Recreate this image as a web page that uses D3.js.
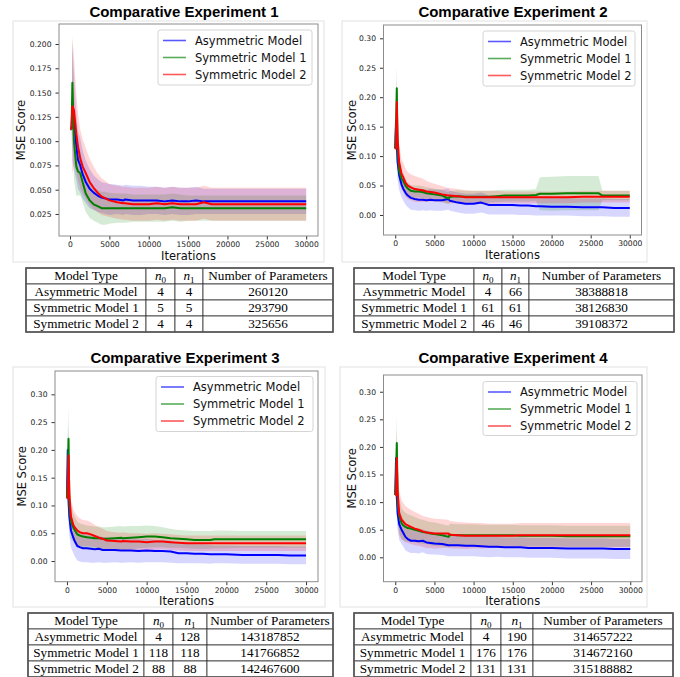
<!DOCTYPE html>
<html>
<head>
<meta charset="utf-8">
<style>
  body { margin: 0; background: #fff; }
  svg text { font-family: "DejaVu Sans", sans-serif; }
  svg text.title { font-family: "Liberation Sans", Arial, sans-serif; font-weight: bold; font-size: 15px; }
  svg text.cell { font-family: "Liberation Serif", "Times New Roman", serif; font-size: 13.2px; }
</style>
<script src="https://cdn.jsdelivr.net/npm/d3@7"></script>
</head>
<body>
<svg width="680" height="677"></svg>
<script>
// ---- data ----
var iters = [0,100,200,300,500,800,1000,1300,1600,2000,2500,3000,3500,4000,4500,5000,6000,6800,7000,8000,9000,10000,11000,12000,13000,14000,15000,16000,17000,18000,18500,20000,22000,24000,26000,26500,28000,30000];

var modelNames = ["Asymmetric Model", "Symmetric Model 1", "Symmetric Model 2"];
var xTicks = [0, 5000, 10000, 15000, 20000, 25000, 30000];
var yTicksExp1 = [0.025, 0.050, 0.075, 0.100, 0.125, 0.150, 0.175, 0.200];
var yTicksOther = [0.00, 0.05, 0.10, 0.15, 0.20, 0.25, 0.30];

// experiment 1
var exp1AsymMean = [0.113,0.113,0.113,0.140,0.120,0.095,0.081,0.075,0.066,0.058,0.051,0.047,0.044,0.042,0.041,0.040,0.040,0.039,0.040,0.039,0.039,0.039,0.039,0.038,0.039,0.038,0.038,0.039,0.038,0.038,0.038,0.038,0.038,0.038,0.038,0.038,0.038,0.038];
var exp1Sym1Mean = [0.113,0.113,0.113,0.160,0.100,0.074,0.069,0.067,0.058,0.046,0.039,0.035,0.033,0.031,0.031,0.031,0.031,0.031,0.031,0.031,0.031,0.031,0.031,0.031,0.032,0.031,0.031,0.031,0.031,0.031,0.031,0.031,0.031,0.031,0.031,0.031,0.031,0.031];
var exp1Sym2Mean = [0.113,0.113,0.113,0.136,0.132,0.108,0.095,0.082,0.074,0.067,0.058,0.052,0.047,0.043,0.041,0.039,0.037,0.036,0.036,0.035,0.035,0.035,0.036,0.035,0.036,0.035,0.035,0.035,0.037,0.035,0.035,0.035,0.035,0.035,0.035,0.035,0.035,0.035];
var exp1AsymStd = [0.002,0.002,0.002,0.060,0.050,0.035,0.030,0.028,0.025,0.022,0.020,0.018,0.017,0.016,0.016,0.016,0.015,0.015,0.015,0.015,0.015,0.014,0.014,0.014,0.014,0.014,0.014,0.014,0.013,0.013,0.013,0.013,0.013,0.013,0.013,0.013,0.013,0.013];
var exp1Sym1Std = [0.002,0.002,0.002,0.050,0.040,0.030,0.025,0.023,0.021,0.019,0.018,0.017,0.017,0.017,0.017,0.016,0.015,0.015,0.015,0.014,0.014,0.014,0.014,0.014,0.014,0.014,0.013,0.013,0.013,0.013,0.013,0.013,0.013,0.013,0.013,0.013,0.013,0.013];
var exp1Sym2Std = [0.002,0.002,0.002,0.070,0.055,0.040,0.035,0.030,0.028,0.026,0.024,0.022,0.020,0.019,0.018,0.017,0.017,0.017,0.017,0.017,0.017,0.017,0.017,0.017,0.017,0.017,0.017,0.017,0.017,0.017,0.017,0.017,0.017,0.017,0.017,0.017,0.017,0.017];

// experiment 2
var exp2AsymMean = [0.113,0.160,0.120,0.090,0.068,0.052,0.045,0.038,0.033,0.029,0.027,0.026,0.026,0.025,0.026,0.025,0.025,0.027,0.024,0.021,0.019,0.019,0.021,0.017,0.017,0.017,0.017,0.016,0.016,0.015,0.015,0.014,0.014,0.013,0.013,0.013,0.012,0.012];
var exp2Sym1Mean = [0.113,0.150,0.215,0.110,0.075,0.062,0.058,0.050,0.045,0.041,0.040,0.040,0.039,0.037,0.036,0.035,0.033,0.028,0.031,0.032,0.031,0.031,0.031,0.031,0.032,0.033,0.033,0.033,0.033,0.034,0.036,0.036,0.037,0.037,0.037,0.033,0.033,0.033];
var exp2Sym2Mean = [0.113,0.113,0.192,0.130,0.090,0.070,0.065,0.055,0.050,0.047,0.044,0.043,0.042,0.040,0.039,0.038,0.035,0.033,0.033,0.032,0.030,0.030,0.030,0.030,0.030,0.030,0.030,0.030,0.030,0.030,0.030,0.030,0.030,0.031,0.031,0.031,0.031,0.031];
var exp2AsymStd = [0.002,0.030,0.030,0.030,0.025,0.022,0.020,0.020,0.020,0.020,0.019,0.019,0.018,0.018,0.018,0.018,0.018,0.018,0.017,0.017,0.017,0.017,0.017,0.016,0.016,0.016,0.016,0.016,0.016,0.016,0.016,0.015,0.015,0.015,0.015,0.015,0.015,0.015];
var exp2Sym1Std = [0.002,0.040,0.040,0.030,0.020,0.015,0.012,0.011,0.010,0.010,0.010,0.010,0.010,0.010,0.010,0.010,0.010,0.010,0.010,0.010,0.010,0.010,0.010,0.010,0.010,0.010,0.010,0.010,0.010,0.010,0.028,0.029,0.029,0.029,0.029,0.008,0.008,0.008];
var exp2Sym2Std = [0.002,0.002,0.040,0.040,0.030,0.025,0.025,0.024,0.023,0.022,0.022,0.021,0.020,0.018,0.016,0.015,0.014,0.013,0.013,0.012,0.012,0.011,0.011,0.011,0.011,0.010,0.010,0.010,0.010,0.010,0.010,0.010,0.010,0.010,0.010,0.010,0.010,0.010];

// experiment 3
var exp3AsymMean = [0.113,0.200,0.110,0.080,0.055,0.042,0.035,0.027,0.025,0.023,0.023,0.022,0.021,0.022,0.020,0.020,0.020,0.019,0.019,0.019,0.018,0.019,0.018,0.018,0.017,0.014,0.014,0.013,0.013,0.012,0.012,0.012,0.011,0.011,0.011,0.011,0.010,0.010];
var exp3Sym1Mean = [0.113,0.150,0.220,0.100,0.070,0.060,0.055,0.048,0.046,0.044,0.043,0.042,0.041,0.041,0.040,0.040,0.041,0.042,0.041,0.042,0.043,0.044,0.044,0.043,0.041,0.040,0.039,0.038,0.038,0.038,0.039,0.039,0.039,0.039,0.039,0.039,0.039,0.039];
var exp3Sym2Mean = [0.113,0.113,0.190,0.120,0.080,0.065,0.060,0.055,0.052,0.050,0.050,0.048,0.045,0.042,0.040,0.037,0.036,0.035,0.036,0.035,0.035,0.034,0.035,0.035,0.034,0.033,0.032,0.032,0.032,0.032,0.032,0.032,0.032,0.032,0.032,0.032,0.032,0.032];
var exp3AsymStd = [0.002,0.050,0.040,0.035,0.030,0.028,0.027,0.026,0.026,0.025,0.025,0.025,0.024,0.024,0.023,0.023,0.022,0.022,0.022,0.021,0.021,0.021,0.020,0.020,0.020,0.018,0.018,0.017,0.017,0.017,0.016,0.016,0.016,0.016,0.016,0.016,0.016,0.016];
var exp3Sym1Std = [0.002,0.060,0.060,0.040,0.030,0.025,0.024,0.023,0.022,0.022,0.021,0.021,0.021,0.021,0.021,0.021,0.021,0.021,0.021,0.021,0.020,0.020,0.019,0.018,0.017,0.016,0.016,0.016,0.016,0.016,0.016,0.016,0.015,0.015,0.015,0.015,0.015,0.015];
var exp3Sym2Std = [0.002,0.002,0.050,0.040,0.030,0.028,0.027,0.026,0.025,0.024,0.023,0.022,0.020,0.019,0.018,0.017,0.016,0.016,0.016,0.015,0.015,0.015,0.015,0.014,0.014,0.014,0.014,0.014,0.014,0.014,0.014,0.014,0.014,0.014,0.014,0.014,0.014,0.014];

// experiment 4
var exp4AsymMean = [0.113,0.180,0.110,0.080,0.060,0.050,0.045,0.037,0.033,0.030,0.030,0.029,0.030,0.027,0.026,0.025,0.024,0.022,0.022,0.022,0.021,0.021,0.020,0.019,0.019,0.018,0.018,0.018,0.017,0.017,0.017,0.017,0.016,0.016,0.016,0.016,0.015,0.015];
var exp4Sym1Mean = [0.113,0.150,0.207,0.100,0.075,0.062,0.058,0.055,0.053,0.052,0.050,0.048,0.046,0.045,0.043,0.042,0.040,0.037,0.041,0.040,0.040,0.040,0.040,0.040,0.040,0.040,0.040,0.039,0.039,0.039,0.039,0.039,0.038,0.038,0.038,0.038,0.038,0.038];
var exp4Sym2Mean = [0.113,0.113,0.180,0.120,0.080,0.068,0.065,0.060,0.058,0.055,0.052,0.050,0.047,0.045,0.044,0.043,0.043,0.043,0.041,0.040,0.039,0.039,0.039,0.039,0.039,0.039,0.039,0.040,0.040,0.040,0.040,0.040,0.040,0.040,0.040,0.040,0.040,0.040];
var exp4AsymStd = [0.002,0.040,0.035,0.030,0.028,0.026,0.025,0.024,0.023,0.022,0.022,0.022,0.021,0.021,0.021,0.020,0.020,0.020,0.020,0.020,0.019,0.019,0.019,0.019,0.018,0.018,0.018,0.018,0.018,0.018,0.018,0.018,0.018,0.018,0.018,0.018,0.018,0.018];
var exp4Sym1Std = [0.002,0.050,0.050,0.040,0.030,0.028,0.027,0.026,0.025,0.024,0.023,0.022,0.022,0.021,0.021,0.021,0.020,0.020,0.020,0.020,0.020,0.020,0.019,0.019,0.019,0.019,0.019,0.019,0.019,0.019,0.019,0.019,0.019,0.019,0.019,0.019,0.019,0.019];
var exp4Sym2Std = [0.002,0.002,0.050,0.045,0.040,0.036,0.034,0.033,0.032,0.031,0.030,0.029,0.028,0.028,0.027,0.027,0.026,0.025,0.025,0.024,0.024,0.023,0.023,0.022,0.022,0.022,0.022,0.022,0.022,0.022,0.022,0.022,0.022,0.022,0.022,0.022,0.022,0.022];

// tables
var tableHeader = ["Model Type", "n0", "n1", "Number of Parameters"];
var table1Rows = [["Asymmetric Model","4","4","260120"],["Symmetric Model 1","5","5","293790"],["Symmetric Model 2","4","4","325656"]];
var table2Rows = [["Asymmetric Model","4","66","38388818"],["Symmetric Model 1","61","61","38126830"],["Symmetric Model 2","46","46","39108372"]];
var table3Rows = [["Asymmetric Model","4","128","143187852"],["Symmetric Model 1","118","118","141766852"],["Symmetric Model 2","88","88","142467600"]];
var table4Rows = [["Asymmetric Model","4","190","314657222"],["Symmetric Model 1","176","176","314672160"],["Symmetric Model 2","131","131","315188882"]];

var colors = ["#0000ff", "#008000", "#ff0000"];

// ---- layout of the four panels ----
var panels = [
    {title: "Comparative Experiment 1", titleX: 184, titleY: 17, outer: [13, 21, 324, 262],
     frame: [59, 24, 318, 236], xDomain: [-1400, 31500], yDomain: [0.00235, 0.2206],
     yTicks: yTicksExp1, yFmt: ".3f", yLabelX: 21, legend: [158, 30, 312, 85],
     means: [exp1AsymMean, exp1Sym1Mean, exp1Sym2Mean], stds: [exp1AsymStd, exp1Sym1Std, exp1Sym2Std],
     cols: [26, 146, 175, 203, 333], tableY: 268, rows: table1Rows},
    {title: "Comparative Experiment 2", titleX: 513, titleY: 17, outer: [342, 21, 647, 262],
     frame: [383.5, 25, 641.5, 235], xDomain: [-1500, 31500], yDomain: [-0.034, 0.3226],
     yTicks: yTicksOther, yFmt: ".2f", yLabelX: 352, legend: [483, 31, 635, 86],
     means: [exp2AsymMean, exp2Sym1Mean, exp2Sym2Mean], stds: [exp2AsymStd, exp2Sym1Std, exp2Sym2Std],
     cols: [354, 474, 502, 529, 674], tableY: 268, rows: table2Rows},
    {title: "Comparative Experiment 3", titleX: 185, titleY: 363, outer: [13, 367, 325, 607],
     frame: [55, 371, 318, 581.7], xDomain: [-1500, 31500], yDomain: [-0.0372, 0.342],
     yTicks: yTicksOther, yFmt: ".2f", yLabelX: 22, legend: [156, 376.5, 313, 431.5],
     means: [exp3AsymMean, exp3Sym1Mean, exp3Sym2Mean], stds: [exp3AsymStd, exp3Sym1Std, exp3Sym2Std],
     cols: [28, 144, 173, 207, 333], tableY: 613, rows: table3Rows},
    {title: "Comparative Experiment 4", titleX: 513, titleY: 363, outer: [340, 367, 647, 607],
     frame: [383.5, 375, 642, 581.7], xDomain: [-1500, 31500], yDomain: [-0.0442, 0.3303],
     yTicks: yTicksOther, yFmt: ".2f", yLabelX: 352, legend: [483, 381.5, 637, 435.5],
     means: [exp4AsymMean, exp4Sym1Mean, exp4Sym2Mean], stds: [exp4AsymStd, exp4Sym1Std, exp4Sym2Std],
     cols: [354, 471, 501, 533, 673], tableY: 613, rows: table4Rows}
];

var svg = d3.select("svg");

panels.forEach(function(p, pi) {
    var fx0 = p.frame[0], fy0 = p.frame[1], fx1 = p.frame[2], fy1 = p.frame[3];

    // light outline around each figure
    svg.append("rect")
        .attr("x", p.outer[0]).attr("y", p.outer[1])
        .attr("width", p.outer[2] - p.outer[0]).attr("height", p.outer[3] - p.outer[1])
        .attr("fill", "none").attr("stroke", "#e2e2e2").attr("stroke-width", 1);

    var x = d3.scaleLinear().domain(p.xDomain).range([fx0, fx1]);
    var y = d3.scaleLinear().domain(p.yDomain).range([fy1, fy0]);

    svg.append("clipPath").attr("id", "clip" + pi)
        .append("rect").attr("x", fx0).attr("y", fy0)
        .attr("width", fx1 - fx0).attr("height", fy1 - fy0);

    var plot = svg.append("g").attr("clip-path", "url(#clip" + pi + ")");

    // std bands, then mean lines
    p.means.forEach(function(mean, si) {
        var std = p.stds[si];
        var pts = iters.map(function(it, i) { return {x: it, m: mean[i], s: std[i]}; });
        var area = d3.area()
            .x(function(d) { return x(d.x); })
            .y0(function(d) { return y(d.m - d.s); })
            .y1(function(d) { return y(d.m + d.s); });
        plot.append("path").datum(pts)
            .attr("d", area)
            .attr("fill", colors[si])
            .attr("fill-opacity", 0.16);
    });
    p.means.forEach(function(mean, si) {
        var pts = iters.map(function(it, i) { return {x: it, m: mean[i]}; });
        var line = d3.line()
            .x(function(d) { return x(d.x); })
            .y(function(d) { return y(d.m); });
        plot.append("path").datum(pts)
            .attr("d", line)
            .attr("fill", "none")
            .attr("stroke", colors[si])
            .attr("stroke-width", 2)
            .attr("stroke-linejoin", "round");
    });

    // axes
    var xAxis = svg.append("g")
        .attr("transform", "translate(0," + fy1 + ")")
        .call(d3.axisBottom(x).tickValues(xTicks).tickSize(3.5).tickPadding(2.5).tickFormat(d3.format("d")));
    var yAxis = svg.append("g")
        .attr("transform", "translate(" + fx0 + ",0)")
        .call(d3.axisLeft(y).tickValues(p.yTicks).tickSize(3.5).tickPadding(4).tickFormat(d3.format(p.yFmt)));
    [xAxis, yAxis].forEach(function(a) {
        a.select(".domain").remove();
        a.selectAll("line").attr("stroke", "#333");
        a.selectAll("text").attr("fill", "#1a1a1a").style("font-family", "DejaVu Sans").style("font-size", "7.6px");
    });

    svg.append("rect")
        .attr("x", fx0).attr("y", fy0)
        .attr("width", fx1 - fx0).attr("height", fy1 - fy0)
        .attr("fill", "none").attr("stroke", "#8c8c8c").attr("stroke-width", 1);

    // titles and axis labels
    svg.append("text").attr("class", "title")
        .attr("x", p.titleX).attr("y", p.titleY)
        .attr("text-anchor", "middle").text(p.title);

    svg.append("text")
        .attr("transform", "translate(" + p.yLabelX + "," + ((fy0 + fy1) / 2) + ") rotate(-90)")
        .attr("text-anchor", "middle").attr("dy", "0.35em")
        .style("font-size", "11.5px").attr("fill", "#111")
        .text("MSE Score");

    svg.append("text")
        .attr("x", (fx0 + fx1) / 2).attr("y", fy1 + 23.5)
        .attr("text-anchor", "middle")
        .style("font-size", "11.5px").attr("fill", "#111")
        .text("Iterations");

    // legend
    var L = p.legend;
    svg.append("rect")
        .attr("x", L[0]).attr("y", L[1])
        .attr("width", L[2] - L[0]).attr("height", L[3] - L[1])
        .attr("rx", 2.5)
        .attr("fill", "#fff").attr("fill-opacity", 0.85)
        .attr("stroke", "#d4d4d4");
    modelNames.forEach(function(name, si) {
        var ly = L[1] + 10.5 + si * 17;
        svg.append("line")
            .attr("x1", L[0] + 5).attr("x2", L[0] + 28)
            .attr("y1", ly).attr("y2", ly)
            .attr("stroke", colors[si]).attr("stroke-opacity", 0.65)
            .attr("stroke-width", 1.6);
        svg.append("text")
            .attr("x", L[0] + 37).attr("y", ly).attr("dy", "0.36em")
            .style("font-size", "11.5px").attr("fill", "#111")
            .text(name);
    });

    // table under the plot
    var rowH = 16;
    var allRows = [tableHeader].concat(p.rows);
    var tg = svg.append("g");
    allRows.forEach(function(row, ri) {
        var ty = p.tableY + ri * rowH;
        row.forEach(function(cell, ci) {
            var cx0 = p.cols[ci], cx1 = p.cols[ci + 1];
            tg.append("rect")
                .attr("x", cx0).attr("y", ty)
                .attr("width", cx1 - cx0).attr("height", rowH)
                .attr("fill", "#fff").attr("stroke", "#333").attr("stroke-width", 0.8);
            var t = tg.append("text").attr("class", "cell")
                .attr("x", (cx0 + cx1) / 2).attr("y", ty + 12.3)
                .attr("text-anchor", "middle").attr("fill", "#000");
            if (ri === 0 && (ci === 1 || ci === 2)) {
                t.append("tspan").style("font-style", "italic").text(cell.charAt(0));
                t.append("tspan").attr("dy", 2.5).style("font-size", "9px").text(cell.charAt(1));
            } else {
                t.text(cell);
            }
        });
    });
    tg.append("rect")
        .attr("x", p.cols[0]).attr("y", p.tableY)
        .attr("width", p.cols[4] - p.cols[0]).attr("height", rowH * allRows.length)
        .attr("fill", "none").attr("stroke", "#555").attr("stroke-width", 1.6);
});
</script>
</body>
</html>
